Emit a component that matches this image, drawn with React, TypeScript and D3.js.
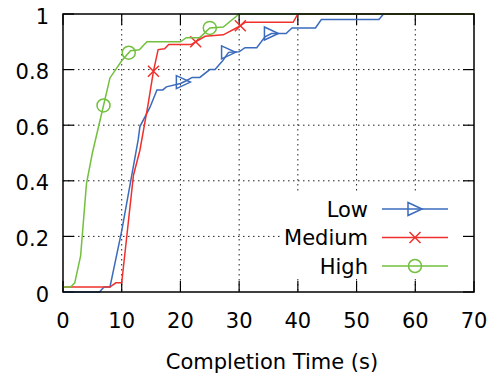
import * as d3 from "d3";

// completion time (s) and cumulative fraction
const lowTime = [0, 6.2, 7, 8, 10, 12.8, 13.1, 14.8, 16, 17, 17.6, 20, 21, 22, 23.3, 25, 25.9, 26.7, 27.2, 28.2, 30, 31, 33, 34.4, 35.5, 38, 39, 43, 44, 53.8, 54.6, 70];
const lowValue = [0, 0, 0.018, 0.018, 0.22, 0.547, 0.595, 0.664, 0.727, 0.727, 0.738, 0.75, 0.76, 0.772, 0.772, 0.8, 0.8, 0.82, 0.832, 0.862, 0.864, 0.879, 0.879, 0.918, 0.93, 0.93, 0.95, 0.95, 0.98, 0.98, 1, 1];

const mediumTime = [0, 8, 9, 10, 12, 13.1, 14.5, 15.4, 16.2, 17.3, 18, 21.8, 24.2, 27.3, 30, 31, 39.2, 40, 70];
const mediumValue = [0.018, 0.018, 0.033, 0.033, 0.42, 0.51, 0.676, 0.794, 0.872, 0.875, 0.89, 0.89, 0.92, 0.925, 0.955, 0.97, 0.97, 1, 1];

const highTime = [0, 1.3, 2, 3, 4, 5, 6, 7, 8, 10, 11.5, 13, 14.3, 20, 21, 23.3, 25, 27.3, 30, 70];
const highValue = [0.018, 0.018, 0.033, 0.13, 0.39, 0.5, 0.59, 0.68, 0.77, 0.832, 0.868, 0.871, 0.9, 0.9, 0.915, 0.915, 0.95, 0.953, 1, 1];

const lowMarkers = [20.5, 28.2, 35.5];
const mediumMarkers = [15.4, 22.6, 30.2];
const highMarkers = [6.9, 11.2, 25];

const seriesNames = ["Low", "Medium", "High"];
const xTicks = [0, 10, 20, 30, 40, 50, 60, 70];
const yTicks = [0, 0.2, 0.4, 0.6, 0.8, 1];
const yTickLabels = ["0", "0.2", "0.4", "0.6", "0.8", "1"];

const W = 504, H = 381;
const left = 63, right = 474, top = 14, bottom = 292;
const font = "DejaVu Sans, Verdana, sans-serif";
const tickLen = 11;

const x = d3.scaleLinear().domain([0, 70]).range([left, right]);
const y = d3.scaleLinear().domain([0, 1]).range([bottom, top]);

const series = [
  { name: seriesNames[0], t: lowTime, v: lowValue, m: lowMarkers, color: "#3a6bbd", shape: "tri" },
  { name: seriesNames[1], t: mediumTime, v: mediumValue, m: mediumMarkers, color: "#f0302c", shape: "x" },
  { name: seriesNames[2], t: highTime, v: highValue, m: highMarkers, color: "#72c03e", shape: "circle" },
];

const valueAt = (ts: number[], vs: number[], t: number) => {
  const i = d3.bisectRight(ts, t);
  if (i <= 0) return vs[0];
  if (i >= ts.length) return vs[vs.length - 1];
  const f = (t - ts[i - 1]) / (ts[i] - ts[i - 1]);
  return vs[i - 1] + f * (vs[i] - vs[i - 1]);
};

const Marker = ({ shape, cx, cy, color }: { shape: string; cx: number; cy: number; color: string }) => {
  if (shape === "tri")
    return <path d={`M${cx - 7},${cy - 6.5}L${cx + 7},${cy}L${cx - 7},${cy + 6.5}Z`} fill="none" stroke={color} strokeWidth={1.5} />;
  if (shape === "x")
    return <path d={`M${cx - 5.5},${cy - 5.5}L${cx + 5.5},${cy + 5.5}M${cx - 5.5},${cy + 5.5}L${cx + 5.5},${cy - 5.5}`} stroke={color} strokeWidth={1.5} />;
  return <circle cx={cx} cy={cy} r={6.5} fill="none" stroke={color} strokeWidth={1.5} />;
};

export default function App() {
  const line = d3.line<number>();
  const legendRight = 368, legendLine0 = 382, legendLine1 = 448, legendY0 = 209, legendStep = 28.5;

  return (
    <svg width={W} height={H} style={{ position: "absolute", left: 0, top: 0, background: "#fff" }} fontFamily={font}>
      {/* grid */}
      <g stroke="#222" strokeWidth={1} strokeDasharray="1.5,3.5">
        {xTicks.slice(1, -1).map((t) => (
          <line key={"gx" + t} x1={x(t)} x2={x(t)} y1={top} y2={bottom} />
        ))}
        {yTicks.slice(1, -1).map((t) => (
          <line key={"gy" + t} x1={left} x2={right} y1={y(t)} y2={y(t)} />
        ))}
      </g>

      {/* legend box */}
      <rect x={282} y={192} width={right - 282} height={87} fill="#fff" />

      {/* ticks */}
      <g stroke="#000" strokeWidth={1.2}>
        {xTicks.map((t) => (
          <g key={"tx" + t}>
            <line x1={x(t)} x2={x(t)} y1={bottom} y2={bottom - tickLen} />
            <line x1={x(t)} x2={x(t)} y1={top} y2={top + tickLen} />
          </g>
        ))}
        {yTicks.map((t) => (
          <g key={"ty" + t}>
            <line x1={left} x2={left + tickLen} y1={y(t)} y2={y(t)} />
            <line x1={right} x2={right - tickLen} y1={y(t)} y2={y(t)} />
          </g>
        ))}
      </g>

      {/* curves */}
      {series.map((s) => (
        <g key={s.name}>
          <path
            d={line(s.t.map((t, i) => [x(t), y(s.v[i])] as [number, number]))!}
            fill="none"
            stroke={s.color}
            strokeWidth={1.5}
          />
          {s.m.map((t) => (
            <Marker key={t} shape={s.shape} cx={x(t)} cy={y(valueAt(s.t, s.v, t))} color={s.color} />
          ))}
        </g>
      ))}

      {/* border */}
      <rect x={left} y={top} width={right - left} height={bottom - top} fill="none" stroke="#000" strokeWidth={1.5} />

      {/* tick labels */}
      <g fontSize={21} fill="#000">
        {xTicks.map((t) => (
          <text key={"lx" + t} x={x(t)} y={328} textAnchor="middle">{t}</text>
        ))}
        {yTicks.map((t, i) => (
          <text key={"ly" + t} x={49} y={y(t) + 9.5} textAnchor="end">{yTickLabels[i]}</text>
        ))}
        <text x={272} y={369} textAnchor="middle">Completion Time (s)</text>
      </g>

      {/* legend */}
      {series.map((s, i) => {
        const ly = legendY0 + i * legendStep;
        return (
          <g key={"lg" + s.name}>
            <text x={legendRight} y={ly + 7.5} textAnchor="end" fontSize={21}>{s.name}</text>
            <line x1={legendLine0} x2={legendLine1} y1={ly} y2={ly} stroke={s.color} strokeWidth={1.5} />
            <Marker shape={s.shape} cx={(legendLine0 + legendLine1) / 2} cy={ly} color={s.color} />
          </g>
        );
      })}
    </svg>
  );
}
